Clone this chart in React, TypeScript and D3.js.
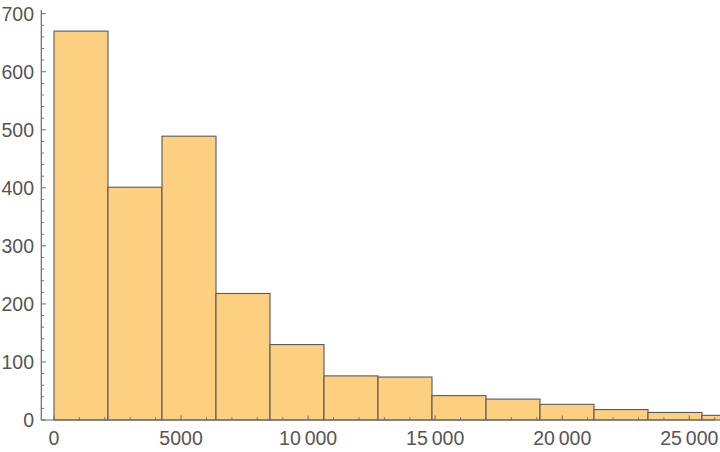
import React from "react";
import * as d3 from "d3";

const binWidth = 2125;
const counts = [670, 401, 489, 218, 130, 76, 74, 42, 36, 27, 18, 13, 8];
const xTicks = [0, 5000, 10000, 15000, 20000, 25000];
const xTickLabels = ["0", "5000", "10\u2009000", "15\u2009000", "20\u2009000", "25\u2009000"];
const yTicks = [0, 100, 200, 300, 400, 500, 600, 700];

const W = 720;
const H = 452;

export default function App() {
  const x = d3.scaleLinear().domain([0, 25000]).range([54, 689.3]);
  const y = d3.scaleLinear().domain([0, 700]).range([420, 13.7]);
  const axisX = 41.3;
  const axisY = 420;
  const axisColor = "#6a6a6a";
  const labelColor = "#555555";
  const font = "'Liberation Sans', Arial, sans-serif";

  const xMinor = d3.range(0, 26001, 1000).filter((v) => v % 5000 !== 0);
  const yMinor = d3.range(0, 701, 20).filter((v) => v % 100 !== 0);

  return (
    <svg
      width={W}
      height={H}
      style={{ position: "absolute", left: 0, top: 0, background: "#fff" }}
    >
      <defs>
        <clipPath id="plotclip">
          <rect x={0} y={0} width={W} height={H} />
        </clipPath>
      </defs>
      <g clipPath="url(#plotclip)">
        {counts.map((c, i) => {
          const x0 = x(i * binWidth);
          const x1 = x((i + 1) * binWidth);
          return (
            <rect
              key={i}
              x={x0}
              y={y(c)}
              width={x1 - x0}
              height={y(0) - y(c)}
              fill="#fdcf80"
              stroke="#5a5a5a"
              strokeWidth={1.1}
            />
          );
        })}
      </g>
      {/* x axis */}
      <line x1={axisX - 0.5} x2={x(26000)} y1={axisY} y2={axisY} stroke={axisColor} strokeWidth={1.2} />
      {xTicks.map((t) => (
        <line key={"xt" + t} x1={x(t)} x2={x(t)} y1={axisY} y2={axisY - 4.5} stroke={axisColor} strokeWidth={1} />
      ))}
      {xMinor.map((t) => (
        <line key={"xm" + t} x1={x(t)} x2={x(t)} y1={axisY} y2={axisY - 2.8} stroke={axisColor} strokeWidth={0.9} />
      ))}
      {xTicks.map((t, i) => (
        <text
          key={"xl" + t}
          x={x(t)}
          y={445}
          textAnchor="middle"
          fontFamily={font}
          fontSize={19.5}
          fill={labelColor}
        >
          {xTickLabels[i]}
        </text>
      ))}
      {/* y axis */}
      <line x1={axisX} x2={axisX} y1={10} y2={axisY} stroke={axisColor} strokeWidth={1.2} />
      {yTicks.map((t) => (
        <line key={"yt" + t} x1={axisX} x2={axisX + 4.5} y1={y(t)} y2={y(t)} stroke={axisColor} strokeWidth={1} />
      ))}
      {yMinor.map((t) => (
        <line key={"ym" + t} x1={axisX} x2={axisX + 2.8} y1={y(t)} y2={y(t)} stroke={axisColor} strokeWidth={0.9} />
      ))}
      {yTicks.map((t) => (
        <text
          key={"yl" + t}
          x={34}
          y={y(t)}
          dy="0.35em"
          textAnchor="end"
          fontFamily={font}
          fontSize={19.5}
          fill={labelColor}
        >
          {t}
        </text>
      ))}
    </svg>
  );
}
